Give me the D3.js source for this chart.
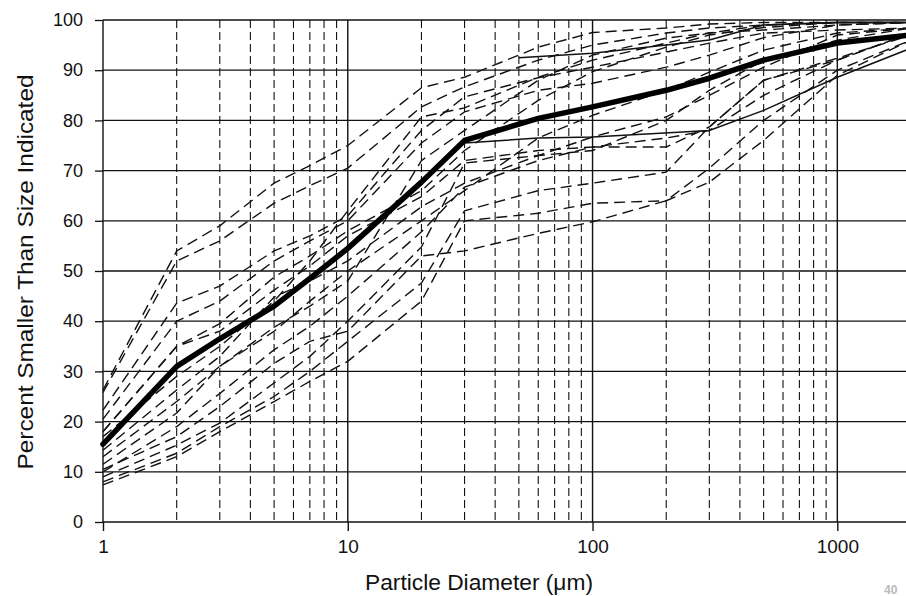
<!DOCTYPE html>
<meta charset="utf-8">
<html>
<head>
<script src="https://cdn.jsdelivr.net/npm/d3@7"></script>
<style>
  body { margin: 0; background: #fff; }
  svg text { font-family: "Liberation Sans", Arial, sans-serif; fill: #111; }
</style>
</head>
<body>
<div id="chart"></div>
<script>
// sieve / hydrometer sizes in micrometres
var sizes = [1, 2, 3, 5, 7, 10, 20, 30, 60, 100, 200, 300, 500, 1000, 2000];

// average gradation curve (thick line)
var averageCurve = [15.5, 31, 36.5, 43, 48.5, 54.5, 67.7, 76, 80.4, 82.7, 86, 88.4, 92, 95.4, 97];

// individual samples (dashed)
var sampleCurves = [
  [26.3, 54, 59, 67.5, 71, 75, 86.5, 88.6, 94.6, 97.5, 98.4, 99.2, 99.5, 99.5, 99.5],
  [25.8, 52, 56, 63.5, 67, 70.5, 82.7, 86.7, 92, 95, 97.4, 98.4, 99, 99.5, 99.5],
  [22.3, 43.6, 47, 54, 57, 61, 78, 84.7, 88.5, 90.6, 93.6, 95.4, 97.4, 98, 98.4],
  [20.5, 40, 44, 52, 56, 60, 75.5, 81.7, 86, 87.4, 90.6, 93, 96.5, 99, 99.5],
  [18, 35, 39.5, 48.8, 53, 58, 66, 74, 84, 89.7, 94.6, 97, 98.5, 99.5, 99.5],
  [18, 35, 38, 46.2, 51, 57, 64.8, 72, 74, 74.7, 76.5, 78, 85, 92, 97.4],
  [14.3, 26.3, 33, 44.8, 48, 52, 62.8, 67.5, 73, 76.7, 80.7, 85, 90.6, 97, 98.4],
  [11.5, 21.7, 31, 38.8, 43, 48, 72, 78, 88, 93, 96.4, 97.4, 98, 99, 99.5],
  [10, 19, 25.6, 34.3, 39, 45, 57.8, 66.7, 72, 74.7, 74.7, 78.7, 88, 92, 97.4],
  [9, 15.3, 19.7, 27.7, 33, 40, 54.8, 71.5, 73, 74, 80, 86, 92, 96, 98.4],
  [8, 13.7, 19, 25, 30, 36, 47.6, 62, 66, 67.5, 69.7, 78.7, 88, 92.4, 97],
  [7.4, 13, 18, 24, 28, 32, 44, 60, 61.5, 63.5, 64, 67.7, 76, 89, 96],
  [10.5, 17, 23, 31.6, 36, 38, 53, 54, 57.5, 59.8, 64, 70.5, 80, 90, 96],
  [13, 24, 31, 38, 44, 50, 60, 66, 76.5, 81, 86, 89.6, 94, 97.4, 98.4],
  [17, 29, 35, 44, 52, 62, 80.7, 82.5, 88.6, 92, 95.4, 97.4, 99, 99.5, 99.5]
];

// two samples drawn solid, coarse fraction only
var solidSizes = [[50, 100, 200, 300, 500, 1000, 2000], [30, 60, 100, 300, 500, 1000, 2000]];
var solidCurves = [[92.5, 93.4, 95, 96, 99, 99.5, 99.5], [75.5, 76.5, 76.7, 78, 82, 88.6, 94.4]];

var yTicks = [0, 10, 20, 30, 40, 50, 60, 70, 80, 90, 100];
var xTicks = [1, 10, 100, 1000];

var width = 906, height = 596;
var svg = d3.select("#chart").append("svg")
    .attr("width", width)
    .attr("height", height);

var x = d3.scaleLog().domain([1, 2000]).range([103, 911]);
var y = d3.scaleLinear().domain([0, 100]).range([522, 20]);

// minor log lines 2..9 of every decade
var minor = [];
[1, 10, 100, 1000].forEach(function (p) {
  for (var k = 2; k <= 9; k++) {
    if (p * k <= 2000) minor.push(p * k);
  }
});

var grid = svg.append("g");
grid.selectAll("line.minor")
    .data(minor)
    .enter().append("line")
    .attr("class", "minor")
    .attr("x1", function (d) { return x(d); })
    .attr("x2", function (d) { return x(d); })
    .attr("y1", y(100))
    .attr("y2", y(0))
    .style("stroke", "#111")
    .style("stroke-width", 1.1)
    .style("stroke-dasharray", "8,4");

grid.selectAll("line.hgrid")
    .data(yTicks)
    .enter().append("line")
    .attr("class", "hgrid")
    .attr("x1", x(1))
    .attr("x2", width)
    .attr("y1", function (d) { return y(d); })
    .attr("y2", function (d) { return y(d); })
    .style("stroke", "#111")
    .style("stroke-width", 1.3);

grid.selectAll("line.major")
    .data(xTicks)
    .enter().append("line")
    .attr("class", "major")
    .attr("x1", function (d) { return x(d); })
    .attr("x2", function (d) { return x(d); })
    .attr("y1", y(100))
    .attr("y2", y(0))
    .style("stroke", "#111")
    .style("stroke-width", 1.4);

// axes (ticks + labels only)
var yAxis = svg.append("g")
    .attr("transform", "translate(" + x(1) + ",0)")
    .call(d3.axisLeft(y).tickValues(yTicks).tickSize(8).tickPadding(12));
var xAxis = svg.append("g")
    .attr("transform", "translate(0," + y(0) + ")")
    .call(d3.axisBottom(x).tickValues(xTicks).tickFormat(d3.format("d")).tickSize(9).tickPadding(9));

yAxis.select(".domain").remove();
xAxis.select(".domain").remove();
yAxis.selectAll("line").style("stroke", "#111").style("stroke-width", 1.3);
xAxis.selectAll("line").style("stroke", "#111").style("stroke-width", 1.4);
yAxis.selectAll("text").style("font-size", "18px").style("font-family", "Liberation Sans, Arial, sans-serif");
xAxis.selectAll("text").style("font-size", "19px").style("font-family", "Liberation Sans, Arial, sans-serif");

var line = d3.line()
    .x(function (d) { return x(d[0]); })
    .y(function (d) { return y(d[1]); });

var curves = svg.append("g");

curves.selectAll("path.sample")
    .data(sampleCurves)
    .enter().append("path")
    .attr("class", "sample")
    .attr("d", function (vals) { return line(vals.map(function (v, i) { return [sizes[i], v]; })); })
    .style("fill", "none")
    .style("stroke", "#111")
    .style("stroke-width", 1.4)
    .style("stroke-dasharray", "11,6");

curves.selectAll("path.solid")
    .data(solidCurves)
    .enter().append("path")
    .attr("class", "solid")
    .attr("d", function (vals, j) { return line(vals.map(function (v, i) { return [solidSizes[j][i], v]; })); })
    .style("fill", "none")
    .style("stroke", "#111")
    .style("stroke-width", 1.5);

curves.append("path")
    .datum(averageCurve.map(function (v, i) { return [sizes[i], v]; }))
    .attr("d", line)
    .style("fill", "none")
    .style("stroke", "#000")
    .style("stroke-width", 5.5)
    .style("stroke-linejoin", "round")
    .style("stroke-linecap", "round");

// titles
svg.append("text")
    .attr("x", 479)
    .attr("y", 590)
    .attr("text-anchor", "middle")
    .attr("textLength", 228)
    .attr("lengthAdjust", "spacingAndGlyphs")
    .style("font-size", "22px")
    .text("Particle Diameter (\u03bcm)");

svg.append("text")
    .attr("transform", "translate(33,272) rotate(-90)")
    .attr("text-anchor", "middle")
    .attr("textLength", 395)
    .attr("lengthAdjust", "spacingAndGlyphs")
    .style("font-size", "22px")
    .text("Percent Smaller Than Size Indicated");

// page number in the corner
svg.append("text")
    .attr("x", 884)
    .attr("y", 594)
    .style("font-size", "12px")
    .style("font-weight", "bold")
    .style("fill", "#bbb")
    .text("40");
</script>
</body>
</html>
